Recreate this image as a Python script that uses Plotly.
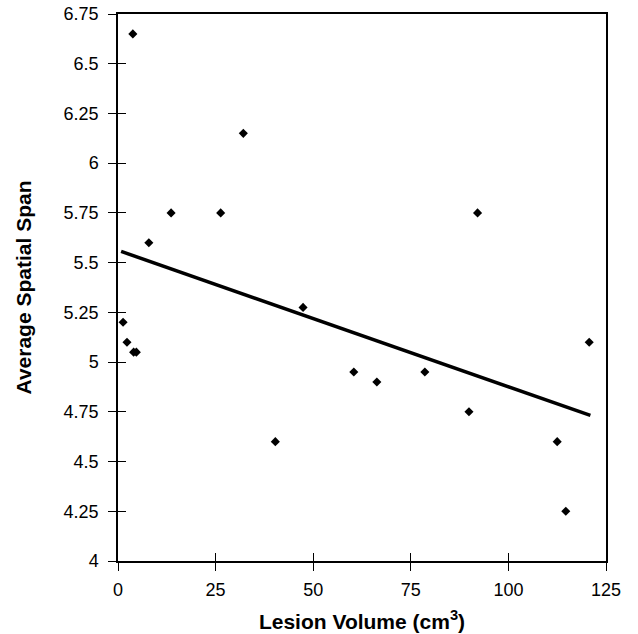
import plotly.graph_objects as go

# Data
lesion_volume = [3.8, 32.1, 13.6, 26.3, 7.9, 1.3, 2.3, 4.0, 4.7, 40.3, 47.4, 92.1,
                 60.4, 66.3, 78.6, 120.7, 89.9, 112.5, 114.7]
spatial_span = [6.65, 6.15, 5.75, 5.75, 5.60, 5.20, 5.10, 5.05, 5.05, 4.60, 5.275, 5.75,
                4.95, 4.90, 4.95, 5.10, 4.75, 4.60, 4.25]

# linear trend line
trend_intercept = 5.562
trend_slope = -0.00686
trend_x = [0.8, 121.0]

x_ticks = [0, 25, 50, 75, 100, 125]
y_ticks = [4, 4.25, 4.5, 4.75, 5, 5.25, 5.5, 5.75, 6, 6.25, 6.5, 6.75]
y_tick_labels = ["4", "4.25", "4.5", "4.75", "5", "5.25", "5.5", "5.75", "6", "6.25", "6.5", "6.75"]

x_range = [0, 125]
y_range = [4, 6.75]

trend_y = [trend_intercept + trend_slope * v for v in trend_x]

FONT = "Liberation Sans, Arial, sans-serif"

fig = go.Figure()
fig.add_trace(go.Scatter(x=trend_x, y=trend_y, mode="lines",
                         line=dict(color="black", width=3.5), hoverinfo="skip"))
fig.add_trace(go.Scatter(x=lesion_volume, y=spatial_span, mode="markers",
                         marker=dict(symbol="diamond", size=7, color="black")))

axis_common = dict(showgrid=False, zeroline=False, ticklen=8, tickwidth=1.2,
                   tickcolor="black", automargin=False,
                   tickfont=dict(family=FONT, size=18, color="black"))

fig.update_layout(
    width=638, height=634,
    margin=dict(l=118, r=32, t=14, b=73),
    paper_bgcolor="white", plot_bgcolor="white",
    showlegend=False,
    font=dict(family=FONT, color="black"),
    xaxis=dict(range=x_range, tickvals=x_ticks, ticktext=[str(t) for t in x_ticks],
               ticks="outside", showline=True, linecolor="black", linewidth=1.5,
               mirror=True, ticklabelstandoff=4,
               title=dict(text="<b>Lesion Volume (cm<sup>3</sup>)</b>",
                          font=dict(family=FONT, size=21, color="black"), standoff=15),
               **axis_common),
    yaxis=dict(range=y_range, tickvals=y_ticks, ticktext=y_tick_labels,
               ticks="outside", showline=True, linecolor="black", linewidth=1.5,
               mirror=True, ticklabelstandoff=6,
               title=dict(text="<b>Average Spatial Span</b>",
                          font=dict(family=FONT, size=21, color="black"), standoff=26),
               **axis_common),
    xaxis2=dict(range=x_range, tickvals=x_ticks, ticks="inside", showticklabels=False,
                overlaying="x", anchor="y", side="bottom", showline=False,
                showgrid=False, zeroline=False, ticklen=8, tickwidth=1.2, tickcolor="black"),
    yaxis2=dict(range=y_range, tickvals=y_ticks, ticks="inside", showticklabels=False,
                overlaying="y", anchor="x", side="left", showline=False,
                showgrid=False, zeroline=False, ticklen=8, tickwidth=1.2, tickcolor="black"),
)

# invisible trace to activate the overlay axes
fig.add_trace(go.Scatter(x=[None], y=[None], xaxis="x2", yaxis="y2", showlegend=False))

# remove the default page margin so the figure fills the window exactly
fig.write_html("out.html", config={"displayModeBar": False},
               post_script="document.body.style.margin='0';")
